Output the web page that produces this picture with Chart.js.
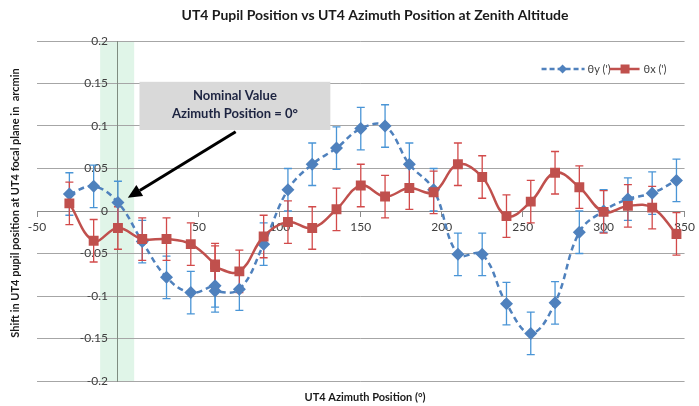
<!DOCTYPE html>
<html>
<head>
<meta charset="utf-8">
<script src="https://cdn.jsdelivr.net/npm/chart.js@4.4.1/dist/chart.umd.min.js"></script>
<style>
html,body{margin:0;padding:0;background:#fff;}
#wrap{width:699px;height:406px;position:relative;}
</style>
</head>
<body>
<div id="wrap"><canvas id="c" width="699" height="406"></canvas></div>
<script>
// ---- data ----
const azimuth   = [-30, -15, 0, 15, 30, 45, 60, 60, 75, 90, 105, 120, 135, 150, 165, 180, 195, 210, 225, 240, 255, 270, 285, 300, 315, 330, 345];
const thetaY    = [0.020, 0.029, 0.010, -0.036, -0.078, -0.096, -0.088, -0.094, -0.092, -0.039, 0.025, 0.055, 0.074, 0.097, 0.100, 0.055, 0.025, -0.051, -0.051, -0.109, -0.144, -0.108, -0.025, 0.000, 0.014, 0.021, 0.036];
const thetaYErr = [0.025, 0.025, 0.025, 0.025, 0.025, 0.025, 0.025, 0.025, 0.025, 0.025, 0.025, 0.025, 0.025, 0.025, 0.025, 0.025, 0.025, 0.025, 0.025, 0.025, 0.025, 0.025, 0.025, 0.025, 0.025, 0.025, 0.025];
const thetaX    = [0.009, -0.035, -0.020, -0.033, -0.033, -0.039, -0.063, -0.066, -0.071, -0.030, -0.013, -0.020, 0.002, 0.030, 0.017, 0.027, 0.022, 0.055, 0.040, -0.006, 0.011, 0.045, 0.028, -0.001, 0.006, 0.004, -0.027];
const thetaXErr = [0.025, 0.025, 0.025, 0.025, 0.025, 0.025, 0.025, 0.025, 0.025, 0.025, 0.025, 0.025, 0.025, 0.025, 0.025, 0.025, 0.025, 0.025, 0.025, 0.025, 0.025, 0.025, 0.025, 0.025, 0.025, 0.025, 0.025];
const seriesNames = ["θy (')", "θx (')"];
const xTicks = [-50, 0, 50, 100, 150, 200, 250, 300, 350];
const yTicks = [-0.2, -0.15, -0.1, -0.05, 0, 0.05, 0.1, 0.15, 0.2];
const yTickLabels = ["-0.2", "-0.15", "-0.1", "-0.05", "0", "0.05", "0.1", "0.15", "0.2"];
const nominalBand = [-11, 10];
const titleText = "UT4 Pupil Position vs UT4 Azimuth Position at Zenith Altitude";
const xTitle = "UT4 Azimuth Position (°)";
const yTitle = "Shift in UT4 pupil position at UT4 focal plane in  arcmin";
const noteLines = ["Nominal Value", "Azimuth Position = 0°"];

const BLUE = '#4F81BD', RED = '#C0504D';
const FONT = 'Lato, "Open Sans", "DejaVu Sans", sans-serif';

const ptsY = azimuth.map((a, i) => ({x: a, y: thetaY[i]}));
const ptsX = azimuth.map((a, i) => ({x: a, y: thetaX[i]}));

const decor = {
  id: 'decor',
  beforeDraw(chart) {
    const {ctx, chartArea: ca, scales: {x}} = chart;
    ctx.save();
    ctx.fillStyle = 'rgba(214,242,224,0.75)';
    const l = x.getPixelForValue(nominalBand[0]), r = x.getPixelForValue(nominalBand[1]);
    ctx.fillRect(l, ca.top, r - l, ca.bottom - ca.top);
    ctx.restore();
  },
  beforeDatasetsDraw(chart) {
    const {ctx, scales: {x, y}} = chart;
    ctx.save();
    // y tick labels, set to the left of the axis that crosses at x = 0
    const axX = x.getPixelForValue(0);
    ctx.fillStyle = '#404040';
    ctx.font = '12px ' + FONT;
    ctx.textAlign = 'right';
    ctx.textBaseline = 'middle';
    yTicks.forEach((v, i) => ctx.fillText(yTickLabels[i], axX - 10, y.getPixelForValue(v)));
    // error bars
    chart.data.datasets.forEach(ds => {
      ctx.strokeStyle = ds.errorColor;
      ctx.lineWidth = 1.3;
      ds.data.forEach((p, j) => {
        const px = x.getPixelForValue(p.x);
        const t = y.getPixelForValue(p.y + ds.errors[j]);
        const b = y.getPixelForValue(p.y - ds.errors[j]);
        ctx.beginPath();
        ctx.moveTo(px, t); ctx.lineTo(px, b);
        ctx.moveTo(px - 4, t); ctx.lineTo(px + 4, t);
        ctx.moveTo(px - 4, b); ctx.lineTo(px + 4, b);
        ctx.stroke();
      });
    });
    ctx.restore();
  },
  afterDraw(chart) {
    const {ctx, chartArea: ca, scales: {x, y}} = chart;
    ctx.save();
    // title
    ctx.fillStyle = '#1a1a1a';
    ctx.textAlign = 'center';
    ctx.textBaseline = 'middle';
    ctx.font = 'bold 14px ' + FONT;
    ctx.fillText(titleText, 375, 15);
    // x title
    ctx.font = 'bold 11px ' + FONT;
    ctx.fillText(xTitle, 365, 397);
    // y title
    ctx.save();
    ctx.translate(15, 203);
    ctx.rotate(-Math.PI / 2);
    ctx.font = 'bold 11px ' + FONT;
    ctx.fillText(yTitle, 0, 0);
    ctx.restore();

    // legend
    const ly = 69;
    const lx = ca.right - 143;
    ctx.lineWidth = 2.5;
    ctx.strokeStyle = BLUE;
    ctx.setLineDash([5, 3]);
    ctx.beginPath(); ctx.moveTo(lx, ly); ctx.lineTo(lx + 43, ly); ctx.stroke();
    ctx.setLineDash([]);
    ctx.fillStyle = BLUE;
    ctx.beginPath();
    ctx.moveTo(lx + 21, ly - 4.5); ctx.lineTo(lx + 25.5, ly); ctx.lineTo(lx + 21, ly + 4.5); ctx.lineTo(lx + 16.5, ly); ctx.closePath(); ctx.fill();
    ctx.font = '11px ' + FONT;
    ctx.textAlign = 'left';
    ctx.fillStyle = '#404040';
    ctx.fillText(seriesNames[0], lx + 46, ly);
    const rx = lx + 68;
    ctx.strokeStyle = RED;
    ctx.beginPath(); ctx.moveTo(rx, ly); ctx.lineTo(rx + 30, ly); ctx.stroke();
    ctx.fillStyle = RED;
    ctx.fillRect(rx + 11, ly - 4.5, 9, 9);
    ctx.fillStyle = '#404040';
    ctx.fillText(seriesNames[1], rx + 34, ly);

    // annotation box (anchored in data units)
    const bx0 = x.getPixelForValue(13.3), bx1 = x.getPixelForValue(131.2);
    const by0 = y.getPixelForValue(0.152), by1 = y.getPixelForValue(0.0953);
    ctx.fillStyle = '#d9d9d9';
    ctx.fillRect(bx0, by0, bx1 - bx0, by1 - by0);
    ctx.fillStyle = '#1c2340';
    ctx.textAlign = 'center';
    ctx.font = 'bold 13px ' + FONT;
    const cx = (bx0 + bx1) / 2;
    ctx.fillText(noteLines[0], cx, by0 + 14);
    ctx.fillText(noteLines[1], cx, by0 + 32);

    // arrow
    const ax0 = x.getPixelForValue(72.7), ay0 = y.getPixelForValue(0.0933);
    const ax1 = x.getPixelForValue(6.1), ay1 = y.getPixelForValue(0.0156);
    const ang = Math.atan2(ay1 - ay0, ax1 - ax0);
    const hl = 14, hw = 6.5;
    const bxp = ax1 - hl * Math.cos(ang), byp = ay1 - hl * Math.sin(ang);
    ctx.strokeStyle = '#000';
    ctx.lineWidth = 3;
    ctx.beginPath(); ctx.moveTo(ax0, ay0); ctx.lineTo(bxp, byp); ctx.stroke();
    ctx.fillStyle = '#000';
    ctx.beginPath();
    ctx.moveTo(ax1, ay1);
    ctx.lineTo(bxp + hw * Math.sin(ang), byp - hw * Math.cos(ang));
    ctx.lineTo(bxp - hw * Math.sin(ang), byp + hw * Math.cos(ang));
    ctx.closePath(); ctx.fill();
    ctx.restore();
  }
};

new Chart(document.getElementById('c'), {
  type: 'line',
  data: {
    datasets: [
      {
        label: seriesNames[0], data: ptsY, errors: thetaYErr, errorColor: '#4a95d6',
        borderColor: BLUE, backgroundColor: BLUE, borderWidth: 2.5, borderDash: [6, 4],
        pointStyle: 'rectRot', pointRadius: 6.5, pointBorderWidth: 0, pointBackgroundColor: BLUE,
        tension: 0.4, cubicInterpolationMode: 'default', order: 1
      },
      {
        label: seriesNames[1], data: ptsX, errors: thetaXErr, errorColor: '#d24a4a',
        borderColor: RED, backgroundColor: RED, borderWidth: 2.5,
        pointStyle: 'rect', pointRadius: 7, pointBorderWidth: 0, pointBackgroundColor: RED,
        tension: 0.4, cubicInterpolationMode: 'default', order: 0
      }
    ]
  },
  options: {
    responsive: false,
    animation: false,
    layout: {padding: {left: 37, top: 41, right: 11, bottom: 25}},
    plugins: {legend: {display: false}, title: {display: false}, tooltip: {enabled: false}},
    scales: {
      x: {
        type: 'linear', min: -50, max: 350, position: {y: 0},
        afterBuildTicks: s => { s.ticks = xTicks.map(v => ({value: v})); },
        grid: {drawOnChartArea: false, tickLength: 5, color: '#8c8c8c'},
        border: {color: '#8c8c8c', width: 1},
        ticks: {color: '#404040', font: {family: FONT, size: 12}, padding: 4, maxRotation: 0,
                callback: v => String(v)}
      },
      y: {
        type: 'linear', min: -0.2, max: 0.2, position: {x: 0},
        afterBuildTicks: s => { s.ticks = yTicks.map(v => ({value: v})); },
        grid: {color: '#a6a6a6', tickLength: 6, lineWidth: 1},
        border: {color: '#7f8c80', width: 1},
        ticks: {display: false}
      }
    }
  },
  plugins: [decor]
});
</script>
</body>
</html>
